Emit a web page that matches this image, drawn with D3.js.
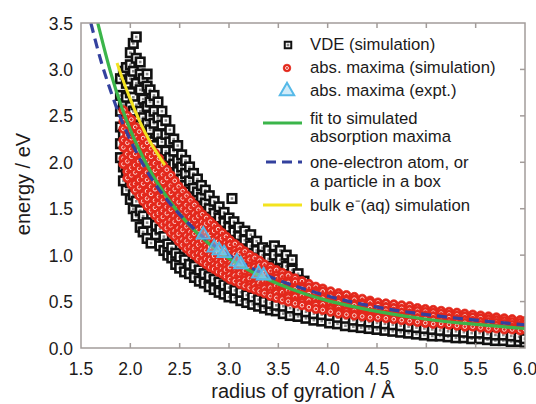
<!DOCTYPE html>
<html><head><meta charset="utf-8">
<script src="https://cdn.jsdelivr.net/npm/d3@7/dist/d3.min.js"></script>
<style>body{margin:0;background:#fff}text{font-family:"Liberation Sans",Arial,Helvetica,sans-serif;fill:#1c1a1a}</style>
</head><body>
<svg id="c" width="536" height="404"></svg>
<script>
// ---- data ----
const xTicks = [1.5,2.0,2.5,3.0,3.5,4.0,4.5,5.0,5.5,6.0];
const yTicks = [0.0,0.5,1.0,1.5,2.0,2.5,3.0,3.5];
const xTitle = "radius of gyration / Å";
const yTitle = "energy / eV";

// VDE (simulation): columns [radius, [energies...]]
const vdeCols = [
 [1.90,[2.05,2.2,2.38,2.55,2.72,2.9]],
 [1.93,[2.98,2.62,2.3,1.95,1.8]],
 [1.96,[3.02,2.85,2.7,2.45,1.7,1.9]],
 [2.00,[3.18,3.05,2.9,2.75,2.6,1.6,1.78]],
 [2.03,[3.28,2.98,2.7,2.55,1.5,1.65]],
 [2.06,[3.35,3.12,2.85,2.62,2.45,1.42,1.58]],
 [2.10,[3.08,2.95,2.78,2.55,2.4,1.3,1.48]],
 [2.13,[2.9,2.68,2.48,2.32,1.25,1.42]],
 [2.17,[2.95,2.82,2.6,2.42,2.28,1.18,1.35]],
 [2.20,[2.78,2.65,2.5,2.35,2.22]],
 [2.21,[1.13]],
 [2.24,[2.72,2.55,2.42,2.18]],
 [2.26,[1.22,1.32]],
 [2.28,[2.65,2.48,2.3,2.12]],
 [2.30,[1.1,1.28]],
 [2.32,[2.55,2.4,2.22,2.05]],
 [2.34,[1.05,1.2]],
 [2.36,[2.45,2.3,2.12,2.0]],
 [2.38,[1.0,1.12]],
 [2.40,[2.35,2.22,2.05,1.92]],
 [2.42,[0.97,1.08]],
 [2.44,[2.25,2.12,1.98,1.85]],
 [2.46,[0.9,1.02]],
 [2.48,[2.18,2.02,1.9,1.78]],
 [2.50,[0.86,0.98]],
 [2.52,[2.08,1.95,1.82,1.72]],
 [2.55,[0.82,0.95]],
 [2.56,[2.02,1.88,1.75,1.65]],
 [2.60,[1.95,1.8,1.68,1.6,0.8,0.9]],
 [2.64,[1.88,1.72,1.62]],
 [2.65,[0.76,0.88]],
 [2.68,[1.82,1.68,1.55,1.5]],
 [2.70,[0.72,0.84]],
 [2.72,[1.75,1.62,1.48]],
 [2.75,[0.7,0.8]],
 [2.76,[1.7,1.56,1.44]],
 [2.80,[1.64,1.5,1.4,0.66,0.77]],
 [2.85,[1.58,1.45,1.35,0.63,0.74]],
 [2.90,[1.52,1.4,1.3,0.6,0.71]],
 [2.95,[1.46,1.35,1.25,0.58,0.68]],
 [3.00,[1.4,1.3,1.2,0.55,0.65]],
 [3.03,[1.61]],
 [3.05,[1.36,1.25,1.16]],
 [3.06,[0.54,0.62]],
 [3.10,[1.3,1.2,1.12]],
 [3.12,[0.51,0.6]],
 [3.16,[1.26,1.16,1.06]],
 [3.18,[0.49,0.57]],
 [3.22,[1.22,1.1,1.02]],
 [3.24,[0.47,0.55]],
 [3.28,[1.15,1.05,0.97]],
 [3.30,[0.45,0.52]],
 [3.34,[1.08,1.0,0.92]],
 [3.36,[0.43,0.5]],
 [3.40,[1.05,0.96,0.88]],
 [3.42,[0.41,0.48]],
 [3.46,[1.1,1.0,0.85]],
 [3.48,[0.4,0.46]],
 [3.52,[1.05,0.95,0.82]],
 [3.55,[0.37,0.45]],
 [3.58,[1.0,0.88,0.79]],
 [3.62,[0.35,0.43]],
 [3.64,[0.95,0.84,0.76]],
 [3.70,[0.8,0.73,0.34,0.41]],
 [3.76,[0.72]],
 [3.78,[0.32,0.39]],
 [3.86,[0.3,0.37]],
 [3.94,[0.29,0.36]],
 [4.02,[0.27,0.35]],
 [4.10,[0.26,0.33]],
 [4.18,[0.24,0.32]],
 [4.26,[0.23,0.3]],
 [4.34,[0.22,0.29]],
 [4.42,[0.21,0.28]],
 [4.50,[0.2,0.27]],
 [4.58,[0.19,0.26]],
 [4.66,[0.18,0.25]],
 [4.74,[0.17,0.24]],
 [4.82,[0.16,0.23]],
 [4.90,[0.15,0.22]],
 [4.98,[0.14,0.21]],
 [5.06,[0.13,0.2]],
 [5.14,[0.13,0.19]],
 [5.22,[0.12,0.18]],
 [5.30,[0.11,0.18]],
 [5.38,[0.11,0.17]],
 [5.46,[0.1,0.16]],
 [5.54,[0.1,0.16]],
 [5.62,[0.09,0.15]],
 [5.70,[0.08,0.14]],
 [5.78,[0.08,0.14]],
 [5.86,[0.07,0.13]],
 [5.94,[0.07,0.12]],
 [6.00,[0.06,0.1]]
];

// abs. maxima (simulation): columns [radius, [energies...]]
const absCols = [
 [1.93,[2.56,2.44,2.36,2.24,2.16,2.04,1.98]],
 [1.97,[2.5,2.41,2.29,2.21,2.09,2.01,1.9,1.83]],
 [2.01,[2.46,2.34,2.26,2.14,2.06,1.94,1.86,1.76]],
 [2.05,[2.38,2.29,2.17,2.09,1.97,1.89,1.77,1.7]],
 [2.09,[2.33,2.21,2.13,2.01,1.93,1.81,1.73,1.64]],
 [2.13,[2.26,2.17,2.05,1.97,1.85,1.77,1.65,1.58]],
 [2.17,[2.21,2.09,2.01,1.89,1.81,1.69,1.61,1.53]],
 [2.21,[2.15,2.06,1.94,1.86,1.74,1.66,1.54,1.48]],
 [2.25,[2.1,1.99,1.91,1.79,1.71,1.59,1.51,1.43]],
 [2.29,[2.04,1.95,1.83,1.75,1.63,1.55,1.45,1.38]],
 [2.33,[1.97,1.87,1.79,1.67,1.59,1.48,1.41,1.33]],
 [2.37,[1.92,1.83,1.71,1.63,1.52,1.45,1.35,1.29]],
 [2.41,[1.86,1.75,1.67,1.56,1.49,1.38,1.32,1.24]],
 [2.45,[1.8,1.71,1.6,1.53,1.42,1.36,1.26,1.2]],
 [2.49,[1.74,1.64,1.57,1.46,1.39,1.29,1.23,1.15]],
 [2.53,[1.69,1.61,1.5,1.43,1.33,1.27,1.17,1.11]],
 [2.57,[1.64,1.54,1.47,1.37,1.31,1.21,1.15,1.07]],
 [2.61,[1.59,1.51,1.41,1.35,1.25,1.19,1.09,1.03]],
 [2.65,[1.54,1.45,1.39,1.29,1.23,1.13,1.07,1.0]],
 [2.69,[1.49,1.42,1.32,1.27,1.17,1.11,1.02,0.96]],
 [2.73,[1.44,1.36,1.3,1.21,1.15,1.06,1.01,0.93]],
 [2.77,[1.4,1.34,1.24,1.19,1.1,1.05,0.96,0.9]],
 [2.81,[1.36,1.28,1.23,1.14,1.09,1.0,0.95,0.87]],
 [2.85,[1.32,1.26,1.17,1.12,1.03,0.99,0.9,0.85]],
 [2.89,[1.28,1.2,1.15,1.07,1.02,0.94,0.89,0.82]],
 [2.93,[1.24,1.18,1.1,1.05,0.97,0.93,0.85,0.8]],
 [2.97,[1.2,1.13,1.08,1.0,0.96,0.88,0.84,0.77]],
 [3.01,[1.16,1.11,1.03,0.99,0.91,0.87,0.79,0.74]],
 [3.06,[1.12,1.05,1.01,0.93,0.89,0.81,0.78,0.72]],
 [3.11,[1.08,1.03,0.95,0.91,0.84,0.8,0.73,0.69]],
 [3.16,[1.04,0.97,0.93,0.86,0.83,0.76,0.73,0.67]],
 [3.21,[1.0,0.95,0.88,0.85,0.78,0.75,0.68,0.65]],
 [3.26,[0.97,0.9,0.87,0.8,0.77,0.7,0.68,0.63]],
 [3.31,[0.94,0.89,0.82,0.79,0.72,0.7,0.64,0.61]],
 [3.36,[0.9,0.84,0.81,0.74,0.72,0.66,0.64,0.59]],
 [3.42,[0.87,0.83,0.76,0.73,0.67,0.65,0.59,0.56]],
 [3.48,[0.84,0.78,0.75,0.69,0.67,0.61,0.59,0.54]],
 [3.54,[0.81,0.77,0.71,0.68,0.62,0.6,0.54,0.52]],
 [3.60,[0.78,0.72,0.7,0.64,0.62,0.56,0.54,0.5]],
 [3.67,[0.75,0.71,0.65,0.63,0.57,0.55,0.5,0.48]],
 [3.74,[0.72,0.66,0.64,0.58,0.56,0.51,0.49,0.46]],
 [3.81,[0.69,0.65,0.59,0.58,0.52,0.51,0.46,0.44]],
 [3.88,[0.66,0.61,0.59,0.53,0.52,0.47,0.46,0.42]],
 [3.95,[0.64,0.61,0.55,0.53,0.48,0.47,0.42,0.41]],
 [4.03,[0.61,0.56,0.55,0.49,0.48,0.43,0.42,0.39]],
 [4.11,[0.59,0.56,0.51,0.49,0.44,0.43,0.39,0.37]],
 [4.19,[0.57,0.52,0.51,0.45,0.44,0.4,0.39,0.36]],
 [4.27,[0.55,0.52,0.47,0.46,0.41,0.4,0.36,0.35]],
 [4.35,[0.53,0.48,0.47,0.42,0.41,0.37,0.36,0.34]],
 [4.43,[0.51,0.49,0.44,0.43,0.38,0.37,0.34,0.33]],
 [4.51,[0.49,0.45,0.41,0.37,0.33]],
 [4.59,[0.48,0.44,0.4,0.36,0.32]],
 [4.67,[0.47,0.43,0.39,0.35,0.31]],
 [4.75,[0.46,0.42,0.38,0.34,0.3]],
 [4.83,[0.45,0.41,0.37,0.33,0.29]],
 [4.91,[0.43,0.4,0.36,0.32,0.28]],
 [4.99,[0.42,0.39,0.35,0.31,0.27]],
 [5.07,[0.41,0.38,0.34,0.3,0.26]],
 [5.15,[0.4,0.37,0.33,0.29,0.26]],
 [5.23,[0.39,0.36,0.32,0.28,0.25]],
 [5.31,[0.38,0.35,0.31,0.27,0.24]],
 [5.39,[0.37,0.34,0.3,0.27,0.23]],
 [5.47,[0.36,0.33,0.29,0.26,0.23]],
 [5.55,[0.35,0.32,0.28,0.25,0.22]],
 [5.63,[0.34,0.31,0.28,0.24,0.21]],
 [5.71,[0.33,0.3,0.27,0.24,0.21]],
 [5.79,[0.32,0.29,0.26,0.23,0.2]],
 [5.87,[0.31,0.28,0.25,0.22,0.2]],
 [5.95,[0.3,0.27,0.24,0.22,0.19]],
 [6.00,[0.29,0.26,0.23,0.2]]
];

// abs. maxima (expt.)
const exptR = [2.74,2.85,2.90,2.95,3.08,3.12,3.30,3.35];
const exptE = [1.22,1.08,1.05,1.02,0.93,0.90,0.80,0.78];

// fit to simulated absorption maxima
const fitR = [1.67,1.8,1.9,2.0,2.2,2.4,2.6,2.8,3.0,3.25,3.5,3.75,4.0,4.5,5.0,5.5,6.0];
const fitE = [3.5,2.97,2.63,2.35,1.91,1.58,1.32,1.12,0.965,0.81,0.69,0.59,0.51,0.395,0.31,0.254,0.21];
// one-electron atom / particle in a box
const atomR = [1.6,1.7,1.8,1.9,2.0,2.2,2.4,2.6,2.8,3.0,3.25,3.5,3.75,4.0,4.5,5.0,5.5,6.0];
const atomE = [3.5,3.1,2.77,2.48,2.24,1.85,1.56,1.33,1.14,1.0,0.85,0.73,0.64,0.56,0.44,0.36,0.30,0.25];
// bulk e-(aq) simulation
const bulkR = [1.865,1.9,2.0,2.1,2.2,2.3,2.35];
const bulkE = [3.07,2.96,2.68,2.43,2.22,2.05,1.97];

const legendLabels = [["VDE (simulation)"],["abs. maxima (simulation)"],["abs. maxima (expt.)"],
  ["fit to simulated","absorption maxima"],["one-electron atom, or","a particle in a box"],["bulk e\u207B(aq) simulation"]];

// ---- colours ----
const C = {frame:"#a29c9a", red:"#e3281c", green:"#3bb54a", blue:"#33419e", yellow:"#f3e31f", tri:"#55b9e8", triFill:"rgba(150,210,242,0.45)"};

const svg = d3.select("#c");
const m = {l:81, r:525, t:23, b:348};
const x = d3.scaleLinear().domain([1.5,6.0]).range([m.l,m.r]);
const y = d3.scaleLinear().domain([0,3.5]).range([m.b,m.t]);

svg.append("defs").append("clipPath").attr("id","clip")
  .append("rect").attr("x",m.l).attr("y",m.t).attr("width",m.r-m.l).attr("height",m.b-m.t);

const vde = vdeCols.flatMap(([r,es])=>es.map(e=>[r,e]));
const abs = absCols.flatMap(([r,es])=>es.map(e=>[r,e]));
const plot = svg.append("g").attr("clip-path","url(#clip)");

function square(g, px, py, s, sw){
  g.append("rect").attr("x",px-s/2).attr("y",py-s/2).attr("width",s).attr("height",s)
    .attr("fill","#fff").attr("stroke","#111").attr("stroke-width",sw);
  g.append("rect").attr("x",px-1.3).attr("y",py-1.3).attr("width",2.6).attr("height",2.6).attr("fill","#8a8a8a");
}
function circ(g, px, py, r){
  g.append("circle").attr("cx",px).attr("cy",py).attr("r",r).attr("fill",C.red).attr("stroke",C.red).attr("stroke-width",0.8);
  g.append("circle").attr("cx",px).attr("cy",py).attr("r",r*0.4).attr("fill","none").attr("stroke","#fde8e4").attr("stroke-width",0.9);
}
const gV = plot.append("g");
vde.forEach(d=>square(gV, x(d[0]), y(d[1]), 8.5, 2.6));
const gR = plot.append("g");
abs.forEach(d=>circ(gR, x(d[0]), y(d[1]), 4.6));

const line = d3.line().curve(d3.curveMonotoneX);
plot.append("path").attr("d", line(fitR.map((r,i)=>[x(r),y(fitE[i])])))
  .attr("fill","none").attr("stroke",C.green).attr("stroke-width",3.2);
plot.append("path").attr("d", line(atomR.map((r,i)=>[x(r),y(atomE[i])])))
  .attr("fill","none").attr("stroke",C.blue).attr("stroke-width",3.2).attr("stroke-dasharray","10,6");
plot.append("path").attr("d", line(bulkR.map((r,i)=>[x(r),y(bulkE[i])])))
  .attr("fill","none").attr("stroke",C.yellow).attr("stroke-width",3);

const tri = d3.symbol().type(d3.symbolTriangle).size(80);
plot.selectAll(".tri").data(exptR).enter().append("path")
  .attr("transform",(r,i)=>`translate(${x(r)},${y(exptE[i])})`).attr("d",tri)
  .attr("fill",C.triFill).attr("stroke",C.tri).attr("stroke-width",1.8);

// frame and ticks
svg.append("rect").attr("x",m.l).attr("y",m.t).attr("width",m.r-m.l).attr("height",m.b-m.t)
  .attr("fill","none").attr("stroke",C.frame).attr("stroke-width",1.5);
const tk = svg.append("g").attr("stroke",C.frame).attr("stroke-width",1.5);
xTicks.slice(1,-1).forEach(t=>{
  tk.append("line").attr("x1",x(t)).attr("x2",x(t)).attr("y1",m.b).attr("y2",m.b-5);
  tk.append("line").attr("x1",x(t)).attr("x2",x(t)).attr("y1",m.t).attr("y2",m.t+5);
});
yTicks.slice(1,-1).forEach(t=>{
  tk.append("line").attr("x1",m.r).attr("x2",m.r-5).attr("y1",y(t)).attr("y2",y(t));
});
xTicks.forEach(t=>svg.append("text").attr("x",x(t)).attr("y",375).attr("text-anchor","middle")
  .attr("font-size",17.5).text(t.toFixed(1)));
yTicks.forEach(t=>svg.append("text").attr("x",73).attr("y",y(t)+6.5).attr("text-anchor","end")
  .attr("font-size",17.5).text(t.toFixed(1)));
svg.append("text").attr("x",(m.l+m.r)/2).attr("y",398).attr("text-anchor","middle").attr("font-size",20).text(xTitle);
svg.append("text").attr("transform","translate(30,184) rotate(-90)").attr("text-anchor","middle").attr("font-size",20).text(yTitle);

// legend
const lg = svg.append("g");
const rowY = [[50],[73],[96],[124,142],[168,187],[211]];
const tx = 310;
legendLabels.forEach((lines,i)=>{
  lines.forEach((s,j)=>lg.append("text").attr("x",tx).attr("y",rowY[i][j]).attr("font-size",16.7).text(s));
});
square(lg, 288, 45, 6.5, 2);
circ(lg, 287, 68, 3.8);
lg.append("path").attr("transform","translate(287,91)").attr("d",d3.symbol().type(d3.symbolTriangle).size(90))
  .attr("fill",C.triFill).attr("stroke",C.tri).attr("stroke-width",2);
lg.append("line").attr("x1",263).attr("x2",302).attr("y1",123).attr("y2",123).attr("stroke",C.green).attr("stroke-width",3.2);
lg.append("line").attr("x1",266).attr("x2",302).attr("y1",162).attr("y2",162).attr("stroke",C.blue).attr("stroke-width",3.2).attr("stroke-dasharray","10,6");
lg.append("line").attr("x1",263).attr("x2",302).attr("y1",205).attr("y2",205).attr("stroke",C.yellow).attr("stroke-width",3);
</script>
</body></html>
